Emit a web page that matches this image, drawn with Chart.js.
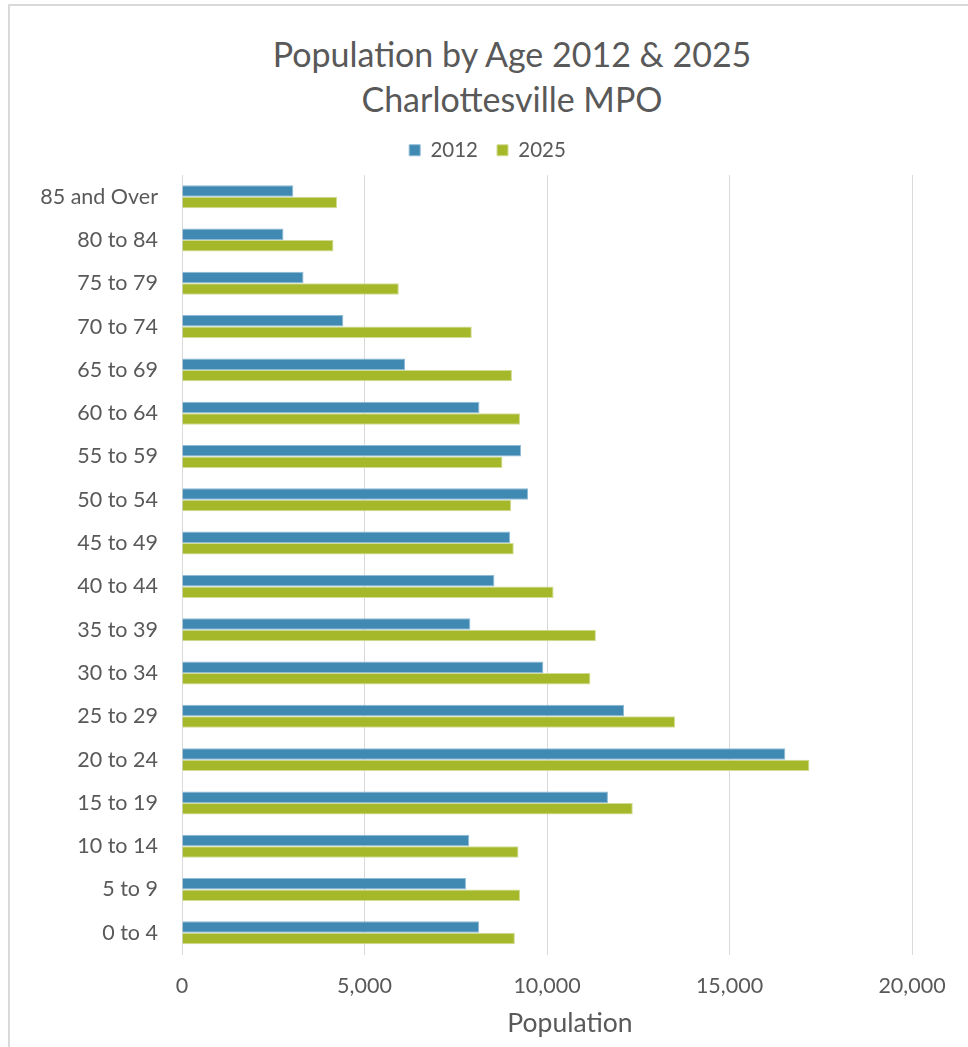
<!DOCTYPE html>
<html>
<head>
<meta charset="utf-8">
<script src="https://cdn.jsdelivr.net/npm/chart.js@4/dist/chart.umd.min.js"></script>
<style>
  html, body { margin:0; padding:0; background:#fff; overflow:hidden; width:968px; height:1047px; }
  #frame { position:absolute; left:8px; top:4px; width:1020px; height:1100px; border-left:2px solid #d9d9d9; border-top:2px solid #d9d9d9; }
  #title { position:absolute; left:0; width:1024px; top:31px; text-align:center; font-family:Lato, "Open Sans", sans-serif; font-size:34px; line-height:45px; color:#595959; }
  #xtitle { position:absolute; left:470px; width:200px; top:1005px; text-align:center; font-family:Lato, "Open Sans", sans-serif; font-size:26.5px; line-height:34px; color:#595959; }
  #wrap { position:absolute; left:9px; top:5px; width:957px; height:1042px; }
</style>
</head>
<body>
<div id="frame"></div>
<div id="title">Population by Age 2012 &amp; 2025<br>Charlottesville MPO</div>
<div id="wrap"><canvas id="c"></canvas></div>
<div id="xtitle">Population</div>
<script>
const categories = ["85 and Over","80 to 84","75 to 79","70 to 74","65 to 69","60 to 64","55 to 59","50 to 54","45 to 49","40 to 44","35 to 39","30 to 34","25 to 29","20 to 24","15 to 19","10 to 14","5 to 9","0 to 4"];
const pop2012 = [3050,2780,3330,4420,6110,8150,9290,9480,8990,8560,7900,9900,12110,16530,11670,7870,7780,8140];
const pop2025 = [4250,4150,5940,7940,9040,9260,8780,9020,9090,10180,11340,11190,13510,17190,12350,9220,9260,9120];
const xTicks = [0,5000,10000,15000,20000];
const seriesNames = ["2012","2025"];

const FONT = 'Lato, "Open Sans", sans-serif';
const TXT = '#595959';

const legendSpace = {
  id: 'legendSpace',
  beforeInit(chart) {
    const lg = chart.legend;
    if (!lg) return;
    const orig = lg.fit;
    lg.fit = function() { orig.call(this); this.height += 4.5; };
  },
  afterLayout(chart) {
    const lg = chart.legend;
    if (!lg) return;
    lg.left += 27; lg.right += 27;
  }
};

new Chart(document.getElementById('c'), {
  type: 'bar',
  data: {
    labels: categories,
    datasets: [
      { label: seriesNames[0], data: pop2012, backgroundColor: '#3f89b3', borderColor: '#8fbbd6', borderWidth: 1 },
      { label: seriesNames[1], data: pop2025, backgroundColor: '#a5b829', borderColor: '#d2dc94', borderWidth: 1 }
    ]
  },
  options: {
    indexAxis: 'y',
    responsive: true,
    maintainAspectRatio: false,
    animation: false,
    datasets: { bar: { categoryPercentage: 0.53, barPercentage: 1.0 } },
    layout: { padding: { top: 116, right: 54, bottom: 0, left: 0 } },
    plugins: {
      title: { display: false },
      tooltip: { enabled: false },
      legend: {
        position: 'top',
        labels: {
          boxWidth: 11, boxHeight: 11, padding: 19,
          color: TXT, font: { family: FONT, size: 20.5 }
        }
      }
    },
    scales: {
      x: {
        min: 0, max: 20000,
        afterBuildTicks: (s) => { s.ticks = xTicks.map(v => ({ value: v })); },
        grid: { color: '#d9d9d9', lineWidth: 1, drawTicks: false },
        border: { display: false },
        ticks: {
          padding: 19, color: TXT, font: { family: FONT, size: 21.5 },
          callback: (v) => Number(v).toLocaleString('en-US')
        },
        title: { display: false },
        afterFit: (s) => { s.height = 92.5; }
      },
      y: {
        grid: { display: false, drawTicks: false },
        border: { display: true, color: '#d9d9d9', width: 1 },
        ticks: { padding: 24, color: TXT, font: { family: FONT, size: 21.5 } },
        afterFit: (s) => { s.width = 173; }
      }
    }
  },
  plugins: [legendSpace]
});
</script>
</body>
</html>
